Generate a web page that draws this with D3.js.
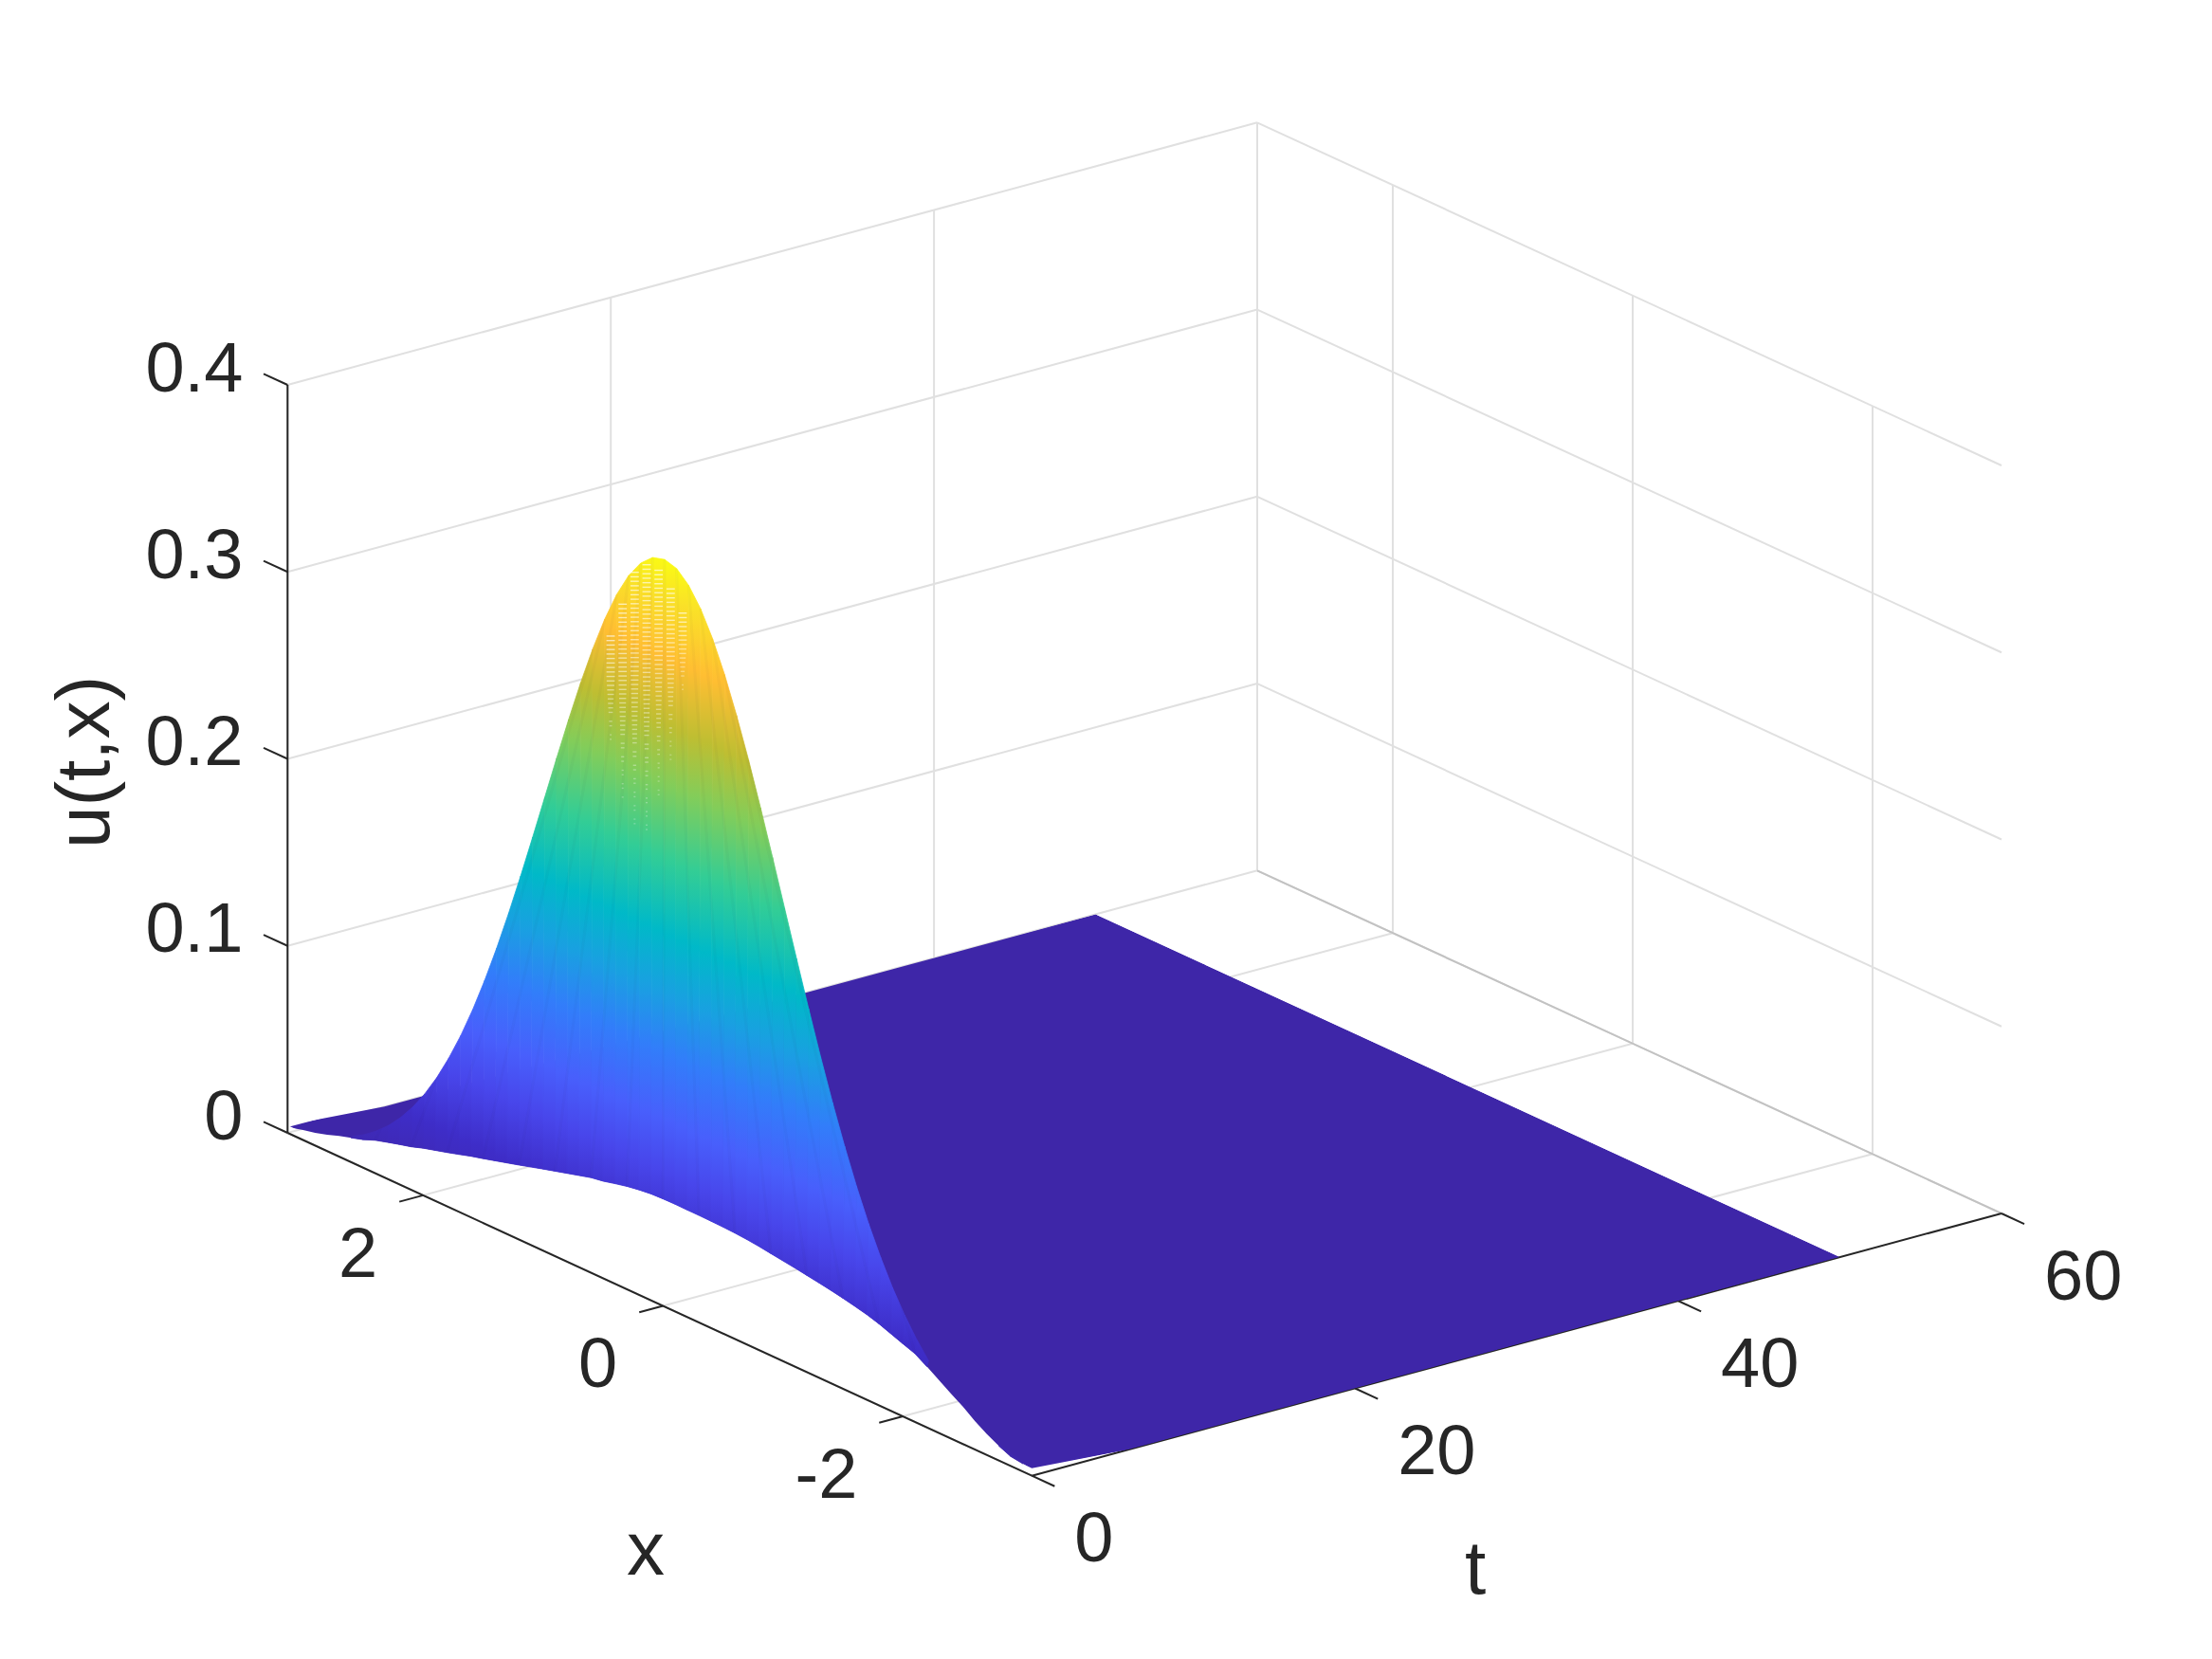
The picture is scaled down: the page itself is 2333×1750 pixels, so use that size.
<!DOCTYPE html>
<html>
<head>
<meta charset="utf-8">
<script src="https://cdn.jsdelivr.net/npm/d3@7"></script>
<style>
  body { margin: 0; background: #fff; }
  text { font-family: "Liberation Sans", Arial, sans-serif; fill: #262626; }
</style>
</head>
<body>
<svg id="chart" width="2333" height="1750"></svg>
<script>
// values
const xTicks = [-2, 0, 2];
const tTicks = [0, 20, 40, 60];
const zTicks = [0, 0.1, 0.2, 0.3, 0.4];
const zTickLabels = ["0", "0.1", "0.2", "0.3", "0.4"];

const xGrid = [-3.075, -3, -2.9, -2.8, -2.7, -2.6, -2.5, -2.4, -2.3, -2.2, -2.1, -2, -1.9, -1.8, -1.7, -1.6, -1.5, -1.4, -1.3, -1.2, -1.1, -1, -0.9, -0.8, -0.7, -0.6, -0.5, -0.4, -0.3, -0.2, -0.1, 0, 0.1, 0.2, 0.3, 0.4, 0.5, 0.6, 0.7, 0.8, 0.9, 1, 1.1, 1.2, 1.3, 1.4, 1.5, 1.6, 1.7, 1.8, 1.9, 2, 2.1, 2.2, 2.3, 2.4, 2.5, 2.6, 2.7, 2.8, 2.9, 3, 3.13];

// lower rim of the hump and its crest, both at the very start of t
const tStart = 0, tPeak = 0.1, tEnd = 50, tRimEnd = 6;
const uEdge = 0.004;
const uStart = [0.0035, 0.0042, 0.0051, 0.0078, 0.0112, 0.0152, 0.02, 0.024, 0.0283, 0.0325, 0.0365, 0.0388, 0.0412, 0.0436, 0.0455, 0.047, 0.0484, 0.0496, 0.0507, 0.0517, 0.0527, 0.0536, 0.0545, 0.0554, 0.0561, 0.0566, 0.0569, 0.0571, 0.0572, 0.0572, 0.0573, 0.0572, 0.0569, 0.0561, 0.055, 0.0535, 0.0519, 0.0508, 0.049, 0.0472, 0.0454, 0.0436, 0.0417, 0.0398, 0.038, 0.0362, 0.0344, 0.0327, 0.0307, 0.0288, 0.027, 0.0252, 0.023, 0.0213, 0.0195, 0.0176, 0.015, 0.013, 0.011, 0.0088, 0.0068, 0.0053, 0.003];
const uPeak = [0.0035, 0.0044, 0.006, 0.0079, 0.0104, 0.0136, 0.0175, 0.0224, 0.0283, 0.0355, 0.044, 0.054, 0.0656, 0.079, 0.094, 0.1109, 0.1295, 0.1497, 0.1714, 0.1942, 0.2179, 0.242, 0.2661, 0.2897, 0.3123, 0.3332, 0.3521, 0.3683, 0.3814, 0.391, 0.397, 0.3989, 0.397, 0.391, 0.3814, 0.3683, 0.3521, 0.3332, 0.3123, 0.2897, 0.2661, 0.242, 0.2179, 0.1942, 0.1714, 0.1497, 0.1295, 0.1109, 0.094, 0.079, 0.0656, 0.054, 0.044, 0.0355, 0.0283, 0.0224, 0.0175, 0.0136, 0.0104, 0.0079, 0.006, 0.0044, 0.003];

// colours read along the hump, low to high
const colorStops = [0, 0.1, 0.18, 0.25, 0.34, 0.42, 0.5, 0.6, 0.7, 0.78, 0.87, 0.95, 1];
const colorValues = ["#3e26a8", "#3e2dc8", "#4846eb", "#485ffc", "#327dfa", "#19a0e1", "#00b9c8", "#32cd96", "#82cd5a", "#bebe32", "#ffbe32", "#fae128", "#fafa14"];
const zMax = 0.3989;

// light specks on the top of the hump
const speckX = [0.4, 0.3, 0.2, 0.1, 0, -0.1, -0.2];
const speckFloor = [0.285, 0.26, 0.25, 0.25, 0.27, 0.29, 0.33];
const speckCeil = [0.345, 0.365, 0.385, 0.392, 0.392, 0.385, 0.375];

// axes box
const tLim = [0, 60], xLim = [3.13, -3.075], zLim = [0, 0.4];
const cornerA = [303.3, 1195], cornerB = [1088.3, 1556.7], cornerC = [2111, 1280];
const zHeight = 789;

const tScale = d3.scaleLinear().domain(tLim).range([0, 1]);
const xScale = d3.scaleLinear().domain(xLim).range([0, 1]);
const zScale = d3.scaleLinear().domain(zLim).range([0, 1]);
const color = d3.scaleLinear().domain(colorStops.map(d => d * zMax)).range(colorValues).clamp(true);

function project(t, x, z) {
    const a = tScale(t), b = xScale(x), c = zScale(z);
    return [
        cornerA[0] + a * (cornerC[0] - cornerB[0]) + b * (cornerB[0] - cornerA[0]),
        cornerA[1] + a * (cornerC[1] - cornerB[1]) + b * (cornerB[1] - cornerA[1]) - c * zHeight
    ];
}

const svg = d3.select("#chart");
const line = d3.line();
const defs = svg.append("defs");

function seg(g, p, q, stroke, width) {
    g.append("path")
        .attr("d", line([p, q]))
        .attr("fill", "none")
        .attr("stroke", stroke)
        .attr("stroke-width", width);
}

// walls and floor
const grid = svg.append("g");
const gridColor = "#e0e0e0", gridWidth = 2;
const t0 = tLim[0], t1 = tLim[1], xHi = xLim[0], xLo = xLim[1];
zTicks.forEach(z => {
    if (z > 0) {
        seg(grid, project(t0, xHi, z), project(t1, xHi, z), gridColor, gridWidth);
        seg(grid, project(t1, xHi, z), project(t1, xLo, z), gridColor, gridWidth);
    }
});
tTicks.forEach(t => {
    seg(grid, project(t, xHi, 0), project(t, xHi, zLim[1]), gridColor, gridWidth);
    seg(grid, project(t, xHi, 0), project(t, xLo, 0), gridColor, gridWidth);
});
xTicks.forEach(x => {
    seg(grid, project(t1, x, 0), project(t1, x, zLim[1]), gridColor, gridWidth);
    seg(grid, project(t0, x, 0), project(t1, x, 0), gridColor, gridWidth);
});
seg(grid, project(t0, xHi, 0), project(t1, xHi, 0), gridColor, gridWidth);
seg(grid, project(t1, xHi, 0), project(t1, xLo, 0), "#c2c2c2", 2);

// axis lines
const axes = svg.append("g");
const axisColor = "#262626", axisWidth = 2;
seg(axes, project(t0, xHi, 0), project(t0, xHi, zLim[1]), axisColor, axisWidth);
seg(axes, project(t0, xHi, 0), project(t0, xLo, 0), axisColor, axisWidth);
seg(axes, project(t0, xLo, 0), project(t1, xLo, 0), axisColor, axisWidth);
zTicks.forEach(z => seg(axes, project(t0, xHi, z), project(t0, xHi + 0.2, z), axisColor, axisWidth));
xTicks.forEach(x => seg(axes, project(t0, x, 0), project(t0 - 1.47, x, 0), axisColor, axisWidth));
tTicks.forEach(t => seg(axes, project(t, xLo, 0), project(t, xLo - 0.19, 0), axisColor, axisWidth));

// the flat part stops at the lower rim of the hump
const rim = xGrid.map((x, i) => project(tStart, x, uStart[i]));
const crest = xGrid.map((x, i) => project(tPeak, x, uPeak[i]));
defs.append("clipPath").attr("id", "aboveRim").append("path")
    .attr("d", line(rim.concat([project(tEnd, xHi, 0), project(tEnd, xLo, 0), project(tRimEnd, xLo, 0)])) + "Z");
defs.append("clipPath").attr("id", "insideHump").append("path")
    .attr("d", line(rim.concat(crest.slice().reverse())) + "Z");

const surface = svg.append("g");
surface.append("path")
    .attr("d", line([
        project(tStart, xLo, uEdge), project(tRimEnd, xLo, 0), project(tEnd, xLo, 0),
        project(tEnd, xHi, 0), project(tRimEnd, xHi, 0), project(tStart, xHi, uEdge)
    ]) + "Z")
    .attr("fill", color(0))
    .attr("clip-path", "url(#aboveRim)");

// front of the hump, shaded by height like shading interp
for (let i = xGrid.length - 2; i >= 0; i--) {
    if (uPeak[i] <= uStart[i] || uPeak[i + 1] <= uStart[i + 1]) continue;
    const cell = [
        project(tStart, xGrid[i], uStart[i]),
        project(tStart, xGrid[i + 1], uStart[i + 1]),
        project(tPeak, xGrid[i + 1], uPeak[i + 1]),
        project(tPeak, xGrid[i], uPeak[i])
    ];
    const xm = (xGrid[i] + xGrid[i + 1]) / 2;
    const zLow = Math.min(uStart[i], uStart[i + 1], uPeak[i], uPeak[i + 1]);
    const zHigh = Math.max(uStart[i], uStart[i + 1], uPeak[i], uPeak[i + 1]);
    const pa = project(tStart, xm, zLow), pb = project(tPeak, xm, zHigh);
    const id = "cell" + i;
    const grad = defs.append("linearGradient")
        .attr("id", id)
        .attr("gradientUnits", "userSpaceOnUse")
        .attr("x1", pa[0]).attr("y1", pa[1])
        .attr("x2", pb[0]).attr("y2", pb[1]);
    grad.append("stop").attr("offset", 0).attr("stop-color", color(zLow));
    colorStops.forEach(c => {
        const z = c * zMax;
        if (z > zLow && z < zHigh) {
            grad.append("stop")
                .attr("offset", (z - zLow) / (zHigh - zLow))
                .attr("stop-color", color(z));
        }
    });
    grad.append("stop").attr("offset", 1).attr("stop-color", color(zHigh));
    surface.append("path")
        .attr("d", line(cell) + "Z")
        .attr("fill", "url(#" + id + ")")
        .attr("stroke", "url(#" + id + ")")
        .attr("stroke-width", 0.8);
}

// faint mesh lines fanning down from the crest
const mesh = svg.append("g")
    .attr("clip-path", "url(#insideHump)")
    .attr("fill", "none")
    .attr("stroke", "#1a1a5a")
    .attr("stroke-opacity", 0.028)
    .attr("stroke-width", 3);
xGrid.forEach((x, i) => {
    if (Math.abs(x) > 1.05) return;
    const j = d3.bisectCenter(xGrid, Math.max(xLo, Math.min(xHi, x * 3)));
    mesh.append("path").attr("d", line([crest[i], rim[j]]));
});

// specks
const specks = svg.append("g").attr("fill", "#fff");
speckX.forEach((x, k) => {
    const rows = d3.range(speckCeil[k], speckFloor[k], -0.0024);
    rows.forEach((z, j) => {
        const p = project(tPeak, x + 0.085, z), q = project(tPeak, x + 0.015, z);
        const fade = (z - speckFloor[k]) / (speckCeil[k] - speckFloor[k]);
        if (fade < 0.35 && (j + k * 3) % 3 === 0) return;
        const w = Math.max(2, Math.abs(q[0] - p[0]) * Math.min(1, fade * 1.6));
        specks.append("rect")
            .attr("x", (p[0] + q[0]) / 2 - w / 2)
            .attr("y", (p[1] + q[1]) / 2)
            .attr("width", w)
            .attr("height", 1.4)
            .attr("opacity", 0.25 + 0.4 * fade);
    });
});

// tick labels
const labels = svg.append("g").attr("font-size", 74);
zTicks.forEach((z, i) => {
    const p = project(t0, xHi, z);
    labels.append("text").attr("x", p[0] - 47).attr("y", p[1] - 20).attr("dy", "0.36em")
        .attr("text-anchor", "end").text(zTickLabels[i]);
});
xTicks.forEach(x => {
    const p = project(t0, x, 0);
    labels.append("text").attr("x", p[0] - 48).attr("y", p[1] + 59).attr("dy", "0.36em")
        .attr("text-anchor", "end").text(x);
});
tTicks.forEach(t => {
    const p = project(t, xLo, 0);
    labels.append("text").attr("x", p[0] + 45).attr("y", p[1] + 64).attr("dy", "0.36em")
        .attr("text-anchor", "start").text(t);
});

// axis names
const names = svg.append("g").attr("font-size", 80).attr("text-anchor", "middle");
names.append("text").attr("x", 681).attr("y", 1641).attr("dy", "0.25em").text("x");
names.append("text").attr("x", 1556).attr("y", 1652).attr("dy", "0.36em").text("t");
names.append("text").attr("transform", "translate(91,804) rotate(-90)").attr("dy", "0.3em").text("u(t,x)");
</script>
</body>
</html>
